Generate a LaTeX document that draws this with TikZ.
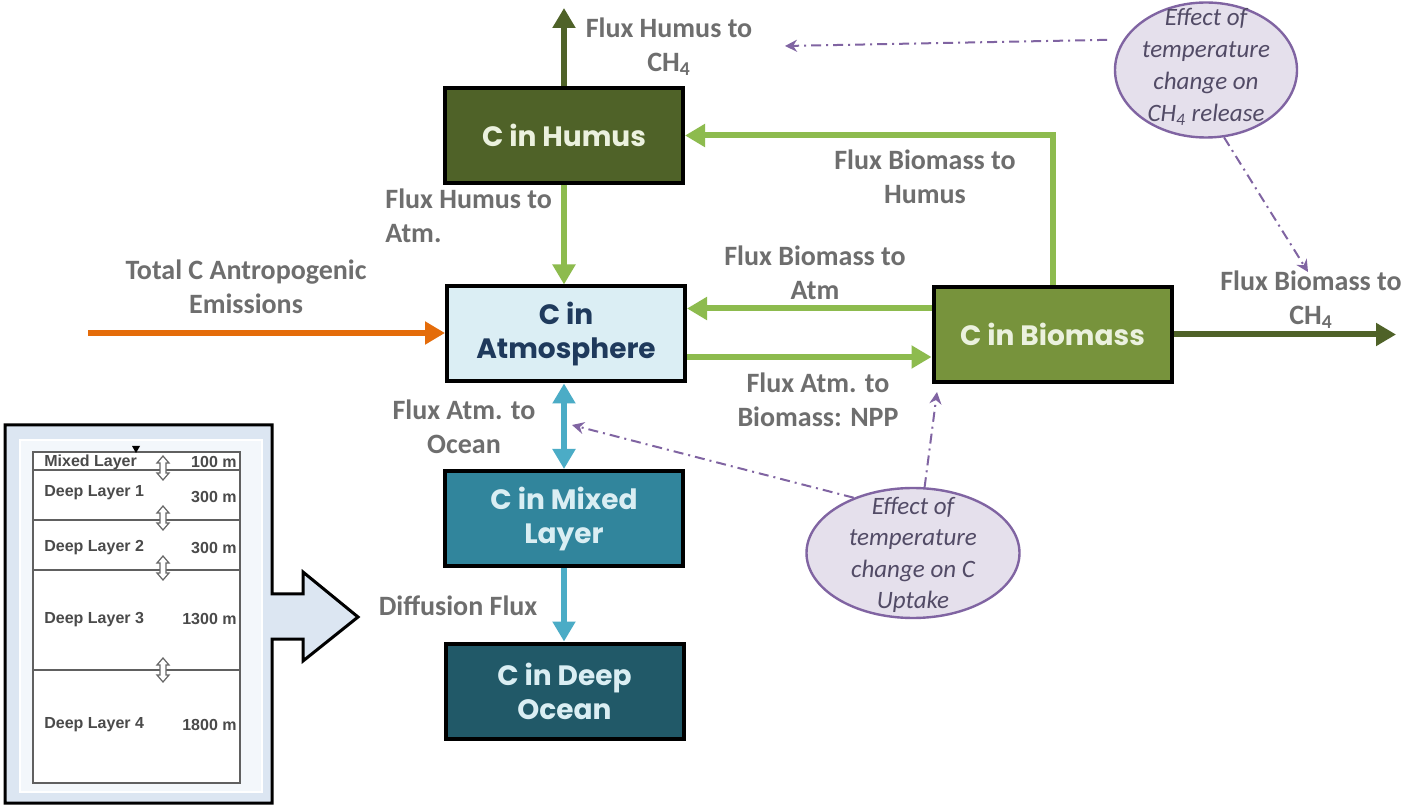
\documentclass[tikz,border=0pt]{standalone}
\usepackage{fontspec}
\setmainfont{Carlito}
\newfontfamily\boxfont{Poppins}
\newfontfamily\tabfont{Liberation Sans}
\usetikzlibrary{arrows.meta,shapes.geometric,calc}
\definecolor{humusc}{HTML}{4F6228}
\definecolor{bioc}{HTML}{77933C}
\definecolor{atmc}{HTML}{DBEEF4}
\definecolor{atmtext}{HTML}{1F3A5C}
\definecolor{mixc}{HTML}{31859C}
\definecolor{deepc}{HTML}{215968}
\definecolor{greentext}{HTML}{EBF1DE}
\definecolor{bluetext}{HTML}{DAEEF3}
\definecolor{lgreen}{HTML}{8DBB4E}
\definecolor{dgreen}{HTML}{4F6228}
\definecolor{orangec}{HTML}{E46C0A}
\definecolor{cyanc}{HTML}{4BACC6}
\definecolor{labelgray}{HTML}{6E6E6E}
\definecolor{effpurple}{HTML}{8064A2}
\definecolor{efffill}{HTML}{E5E0EC}
\definecolor{efftext}{HTML}{524B66}
\definecolor{panelblue}{HTML}{DCE6F2}
\definecolor{panelinner}{HTML}{F3F7FB}
\definecolor{tabtext}{HTML}{4A4A4A}
\begin{document}
\begin{tikzpicture}[x=0.5pt,y=-0.5pt,
  box/.style={draw=black, line width=2pt, minimum width=119pt, minimum height=47.5pt,
    inner sep=0pt, align=center, font=\boxfont\bfseries\fontsize{14}{17}\selectfont},
  lbl/.style={text=labelgray, align=center, inner sep=0pt, font=\bfseries\fontsize{14}{17}\selectfont},
  flow/.style={line width=3pt, -{Triangle[length=10pt,width=11pt]}},
  effell/.style={ellipse, draw=effpurple, line width=1.2pt, fill=efffill, inner sep=0pt},
  efftxt/.style={text=efftext, align=center, inner sep=0pt, font=\itshape\fontsize{12.5}{16}\selectfont},
  dd/.style={draw=effpurple, line width=1pt, dash pattern=on 5pt off 2.5pt on 1pt off 2.5pt,
    -{Stealth[length=6pt,width=6pt]}},
  tab/.style={text=tabtext, inner sep=0pt, font=\tabfont\bfseries\fontsize{8}{9}\selectfont},
  dbl/.pic={\draw[gray!80!black, line width=0.6pt, fill=white]
     (0,-12) -- (6,-5) -- (3,-5) -- (3,5) -- (6,5) -- (0,12) -- (-6,5) -- (-3,5) -- (-3,-5) -- (-6,-5) -- cycle;}
]
\fill[white] (0,0) rectangle (1409,807);
\useasboundingbox (0,0) rectangle (1409,807);

% ---------- left panel ----------
\draw[line width=1.5pt, fill=panelblue] (5,425) -- (272,425) -- (272,594) -- (303,594) -- (303,572)
  -- (358,617) -- (303,661) -- (303,639) -- (272,639) -- (272,803) -- (5,803) -- cycle;
\draw[draw=white, fill=panelinner, line width=1pt] (20,440) rectangle (262,792);
\draw[gray!75!black, line width=0.8pt, fill=white] (33,452) rectangle (240,783);
\foreach \yy in {470,520,570,670} \draw[gray!75!black, line width=0.8pt] (33,\yy) -- (240,\yy);
\fill[black] (132,446) -- (140,446) -- (136,453) -- cycle;
\pic at (163,468) {dbl};
\pic at (163,518) {dbl};
\pic at (163,568) {dbl};
\pic at (163,670) {dbl};
\node[tab, anchor=west] (t1) at (44,462) {Mixed Layer};
\node[tab, anchor=east] (d1) at (237,462) {100 m};
\node[tab, anchor=west] (t2) at (44,493) {Deep Layer 1};
\node[tab, anchor=east] (d2) at (237,497) {300 m};
\node[tab, anchor=west] (t3) at (44,548) {Deep Layer 2};
\node[tab, anchor=east] (d3) at (237,548) {300 m};
\node[tab, anchor=west] (t4) at (44,620) {Deep Layer 3};
\node[tab, anchor=east] (d4) at (237,619) {1300 m};
\node[tab, anchor=west] (t5) at (44,725) {Deep Layer 4};
\node[tab, anchor=east] (d5) at (237,725) {1800 m};

% ---------- boxes ----------
\node[box, fill=humusc, text=greentext] (hum) at (564,135.5) {C in Humus};
\node[box, fill=atmc, text=atmtext] (atm) at (566,334) {C in\\Atmosphere};
\node[box, fill=bioc, text=greentext] (bio) at (1052.5,334.5) {C in Biomass};
\node[box, fill=mixc, text=bluetext] (mix) at (564,518.5) {C in Mixed\\Layer};
\node[box, fill=deepc, text=bluetext] (deep) at (564.5,691) {C in Deep\\Ocean};

% ---------- ellipses ----------
\node[effell, minimum width=91pt, minimum height=67.5pt] (ech4) at (1206,70) {};
\node[efftxt] (ech4t) at (1206,67) {Effect of\\temperature\\change on\\CH\textsubscript{4} release};
\node[effell, minimum width=106.5pt, minimum height=65pt] (eup) at (913,553) {};
\node[efftxt, font=\itshape\fontsize{12.5}{15.75}\selectfont] (eupt) at (913,555) {Effect of\\temperature\\change on C\\Uptake};

% ---------- coordinates ----------
\coordinate (emis) at (88,333);
\coordinate (humtip) at (564,8);
\coordinate (biotip) at (1396,334.5);
\coordinate (ch4tip) at (785,46);
\coordinate (bch4tip) at (1308,272);
\coordinate (npptip) at (937,392);
\coordinate (ocetip) at (572,425);

% ---------- flows ----------
\draw[flow, draw=dgreen] (hum.north) -- (humtip);
\draw[flow, draw=lgreen] (hum.south) -- (atm.north -| hum.south);
\draw[flow, draw=lgreen] (bio.north) |- (hum.east);
\draw[flow, draw=lgreen] ([yshift=13pt]bio.west) -- ([yshift=13pt]bio.west -| atm.east);
\draw[flow, draw=lgreen] ([yshift=-11.5pt]atm.east) -- ([yshift=-11.5pt]atm.east -| bio.west);
\draw[flow, draw=dgreen] (bio.east) -- (biotip);
\draw[flow, draw=orangec] (emis) -- (atm.west |- emis);
\draw[line width=3pt, draw=cyanc, {Triangle[length=10pt,width=11pt]}-{Triangle[length=10pt,width=11pt]}] (atm.south -| mix.north) -- (mix.north);
\draw[flow, draw=cyanc] (mix.south) -- (deep.north -| mix.south);

% ---------- dash-dot influences ----------
\draw[dd] ([xshift=-8pt]ech4.160) -- (ch4tip);
\draw[dd] (ech4.-75) -- (bch4tip);
\draw[dd] (eup.80) -- (npptip);
\draw[dd] (eup.137) -- (ocetip);

% ---------- labels ----------
\node[lbl] (lhch4) at (669,47) {Flux Humus to\\CH\textsubscript{4}};
\node[lbl, align=left, anchor=west] (lhatm) at (385,216) {Flux Humus to\\Atm.};
\node[lbl] (lbhum) at (925,177) {Flux Biomass to\\Humus};
\node[lbl] (lemis) at (246,287) {Total C Antropogenic\\Emissions};
\node[lbl] (lbatm) at (815,273) {Flux Biomass to\\Atm};
\node[lbl] (lnpp) at (818,400) {Flux Atm. to\\Biomass: NPP};
\node[lbl] (locean) at (464,427) {Flux Atm. to\\Ocean};
\node[lbl] (ldiff) at (458,606) {Diffusion Flux};
\node[lbl] (lbch4) at (1311,300) {Flux Biomass to\\CH\textsubscript{4}};
\end{tikzpicture}
\end{document}
